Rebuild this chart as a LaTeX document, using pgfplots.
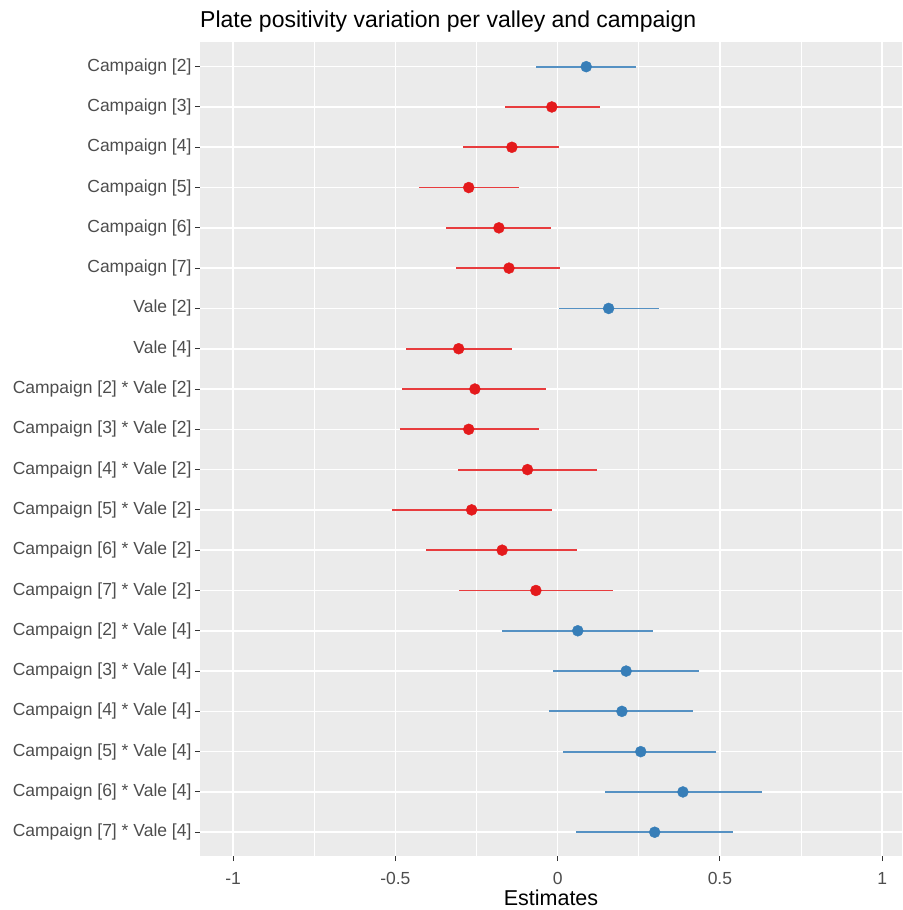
\documentclass[border=0pt]{standalone}
\usepackage{pgfplots}
\pgfplotsset{compat=1.18}
\usepackage{pgfplotstable}
\usepackage{fontspec}
\setmainfont{Liberation Sans}
\definecolor{setred}{HTML}{E41A1C}
\definecolor{setblue}{HTML}{377EB8}
\definecolor{panelgray}{HTML}{EBEBEB}
\definecolor{labgray}{HTML}{4D4D4D}
\definecolor{tickgray}{HTML}{333333}

\pgfplotstableread{
row est lo hi
2 -0.018 -0.163 0.132
3 -0.141 -0.291 0.004
4 -0.274 -0.427 -0.120
5 -0.181 -0.343 -0.022
6 -0.150 -0.312 0.008
8 -0.305 -0.466 -0.141
9 -0.255 -0.480 -0.036
10 -0.274 -0.485 -0.057
11 -0.093 -0.308 0.122
12 -0.265 -0.510 -0.018
13 -0.171 -0.405 0.061
14 -0.067 -0.304 0.172
}\reddata

\pgfplotstableread{
row est lo hi
1 0.088 -0.066 0.240
7 0.157 0.005 0.312
15 0.062 -0.171 0.295
16 0.211 -0.013 0.436
17 0.198 -0.026 0.418
18 0.256 0.018 0.488
19 0.386 0.146 0.629
20 0.299 0.058 0.540
}\bluedata

\begin{document}
\begin{tikzpicture}
\useasboundingbox (0,0) rectangle (902pt,910pt);
\begin{axis}[
  at={(200pt,54pt)}, anchor=south west,
  scale only axis, width=702pt, height=814.3pt,
  xmin=-1.102, xmax=1.061,
  ymin=0.38, ymax=20.59, y dir=reverse,
  axis background/.style={fill=panelgray},
  axis line style={draw=none},
  xtick={-1,-0.5,0,0.5,1},
  xticklabels={-1,-0.5,0,0.5,1},
  minor xtick={-0.75,-0.25,0.25,0.75},
  ytick={1,...,20},
  yticklabels={{Campaign [2]},{Campaign [3]},{Campaign [4]},{Campaign [5]},{Campaign [6]},{Campaign [7]},{Vale [2]},{Vale [4]},{Campaign [2] * Vale [2]},{Campaign [3] * Vale [2]},{Campaign [4] * Vale [2]},{Campaign [5] * Vale [2]},{Campaign [6] * Vale [2]},{Campaign [7] * Vale [2]},{Campaign [2] * Vale [4]},{Campaign [3] * Vale [4]},{Campaign [4] * Vale [4]},{Campaign [5] * Vale [4]},{Campaign [6] * Vale [4]},{Campaign [7] * Vale [4]}},
  xtick pos=lower, ytick pos=left,
  tick align=outside,
  major tick length=5pt, minor tick length=0pt,
  tick style={tickgray, line width=1pt},
  grid=both,
  major grid style={white, line width=1.6pt},
  minor grid style={white, line width=0.9pt},
  extra x ticks={0}, extra x tick labels={},
  extra x tick style={grid style={white, line width=2.6pt}, major tick length=0pt},
  ticklabel style={font=\fontsize{17.5}{20}\selectfont, text=labgray},
  xticklabel style={yshift=-8pt},
  title={Plate positivity variation per valley and campaign},
  title style={at={(0,1)}, anchor=base west, yshift=8pt, inner sep=0pt, font=\fontsize{23}{26}\selectfont},
  xlabel={Estimates},
  xlabel style={at={(axis description cs:0.5,0)}, anchor=base, yshift=-49pt, inner sep=0pt, font=\fontsize{21.5}{24}\selectfont},
  clip=false,
]
\addplot[setred!85!white, draw=none, mark=none,
  error bars/.cd, x dir=both, x explicit, error mark=none,
  error bar style={setred!85!white, line width=1.8pt}]
  table[x=est, y=row, x error plus expr=\thisrow{hi}-\thisrow{est}, x error minus expr=\thisrow{est}-\thisrow{lo}] {\reddata};
\addplot[only marks, mark=*, mark size=5.5pt, setred, mark options={fill=setred, draw=setred}]
  table[x=est, y=row] {\reddata};
\addplot[setblue!85!white, draw=none, mark=none,
  error bars/.cd, x dir=both, x explicit, error mark=none,
  error bar style={setblue!85!white, line width=1.8pt}]
  table[x=est, y=row, x error plus expr=\thisrow{hi}-\thisrow{est}, x error minus expr=\thisrow{est}-\thisrow{lo}] {\bluedata};
\addplot[only marks, mark=*, mark size=5.5pt, setblue, mark options={fill=setblue, draw=setblue}]
  table[x=est, y=row] {\bluedata};
\end{axis}
\end{tikzpicture}
\end{document}
